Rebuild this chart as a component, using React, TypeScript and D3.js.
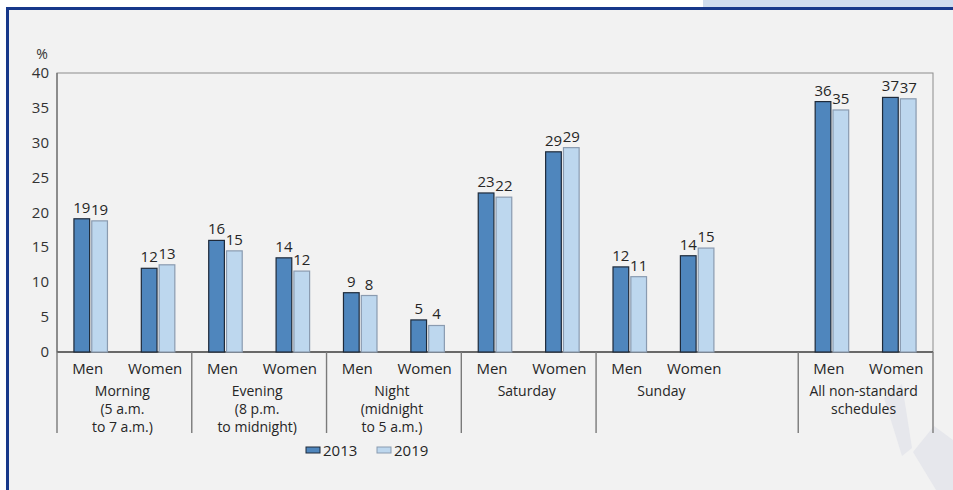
import React from "react";
import * as d3 from "d3";

const slots = ["m1", "w1", "m2", "w2", "m3", "w3", "m4", "w4", "m5", "w5", "gap", "m6", "w6"];
const sexLabels = ["Men", "Women", "Men", "Women", "Men", "Women", "Men", "Women", "Men", "Women", "", "Men", "Women"];
const values2013 = [19.1, 12.0, 16.0, 13.5, 8.5, 4.6, 22.8, 28.7, 12.2, 13.8, null, 35.9, 36.5];
const values2019 = [18.8, 12.5, 14.5, 11.6, 8.1, 3.8, 22.2, 29.3, 10.8, 14.9, null, 34.7, 36.3];
const labels2013 = ["19", "12", "16", "14", "9", "5", "23", "29", "12", "14", "", "36", "37"];
const labels2019 = ["19", "13", "15", "12", "8", "4", "22", "29", "11", "15", "", "35", "37"];
const groups = [
  { start: 0, end: 2, labelEnd: 2, lines: ["Morning", "(5 a.m.", "to 7 a.m.)"] },
  { start: 2, end: 4, labelEnd: 4, lines: ["Evening", "(8 p.m.", "to midnight)"] },
  { start: 4, end: 6, labelEnd: 6, lines: ["Night", "(midnight", "to 5 a.m.)"] },
  { start: 6, end: 8, labelEnd: 8, lines: ["Saturday"] },
  { start: 8, end: 11, labelEnd: 10, lines: ["Sunday"] },
  { start: 11, end: 13, labelEnd: 13, lines: ["All non-standard", "schedules"] },
];
const yTicks = [0, 5, 10, 15, 20, 25, 30, 35, 40];
const seriesNames = ["2013", "2019"];

const W = 953;
const H = 490;
const left = 57;
const right = 933;
const top = 73;
const bottom = 352;
const FONT = "'Open Sans', sans-serif";
const C2013 = "#4f86bd";
const S2013 = "#1e2a3a";
const C2019 = "#bdd7ee";
const S2019 = "#8a9bb0";

export default function App() {
  const x = d3.scaleBand<number>().domain(d3.range(slots.length)).range([left, right]).padding(0);
  const inner = d3.scaleBand<string>().domain(seriesNames).range([0, x.bandwidth()]).paddingInner(0.12).paddingOuter(0.95);
  const y = d3.scaleLinear().domain([0, 40]).range([bottom, top]);
  const edge = (i: number) => left + i * x.step();
  const bw = inner.bandwidth();

  const bars: React.ReactNode[] = [];
  const series = [
    { name: "2013", vals: values2013, labs: labels2013, fill: C2013, stroke: S2013 },
    { name: "2019", vals: values2019, labs: labels2019, fill: C2019, stroke: S2019 },
  ];
  series.forEach((s) => {
    s.vals.forEach((v, i) => {
      if (v == null) return;
      const bx = (x(i) as number) + (inner(s.name) as number);
      bars.push(
        <rect key={s.name + i} x={bx} y={y(v)} width={bw} height={y(0) - y(v)} fill={s.fill} stroke={s.stroke} strokeWidth={1.2} />
      );
      bars.push(
        <text key={"l" + s.name + i} x={bx + bw / 2} y={y(v) - 6} textAnchor="middle" fontSize={15} fill="#262626" fontFamily={FONT}>
          {s.labs[i]}
        </text>
      );
    });
  });

  return (
    <svg width={W} height={H} style={{ position: "absolute", left: 0, top: 0 }} xmlns="http://www.w3.org/2000/svg">
      <rect x={0} y={0} width={W} height={H} fill="#ffffff" />
      <rect x={703} y={0} width={W - 703} height={8} fill="#cfdcee" />
      <rect x={6} y={7} width={W - 6} height={H - 7} fill="#f2f2f2" />
      <rect x={6} y={7} width={W - 6} height={3} fill="#17388a" />
      <rect x={6} y={7} width={3} height={H - 7} fill="#17388a" />
      <polygon points="884,398 902,384 912,448 902,456" fill="#e6e7ec" />
      <polygon points="913,452 934,426 953,440 953,490 936,490" fill="#e6e7ec" />

      <rect x={left} y={top} width={right - left} height={bottom - top} fill="none" stroke="#8c8c8c" strokeWidth={1} />
      <line x1={left} x2={right} y1={bottom} y2={bottom} stroke="#4d4d4d" strokeWidth={1.3} />
      <line x1={left} x2={left} y1={top} y2={bottom} stroke="#6b6b6b" strokeWidth={1.2} />

      <text x={42} y={59} textAnchor="middle" fontSize={14} fill="#333" fontFamily={FONT}>%</text>
      {yTicks.map((t) => (
        <text key={t} x={49} y={y(t) + 5} textAnchor="end" fontSize={15} fill="#333" fontFamily={FONT}>
          {t}
        </text>
      ))}

      {bars}

      {groups.map((g, gi) => (
        <line key={"s" + gi} x1={edge(g.start)} x2={edge(g.start)} y1={bottom} y2={433} stroke="#7a7a7a" strokeWidth={1.4} />
      ))}
      <line x1={edge(13)} x2={edge(13)} y1={bottom} y2={433} stroke="#7a7a7a" strokeWidth={1.4} />

      {sexLabels.map((s, i) =>
        s ? (
          <text key={"sx" + i} x={(x(i) as number) + x.bandwidth() / 2 - 3} y={374} textAnchor="middle" fontSize={15} fill="#262626" fontFamily={FONT}>
            {s}
          </text>
        ) : null
      )}
      {groups.map((g, gi) =>
        g.lines.map((ln, li) => (
          <text key={"g" + gi + li} x={(edge(g.start) + edge(g.labelEnd)) / 2 - 2} y={396 + li * 18} textAnchor="middle" fontSize={14} fill="#262626" fontFamily={FONT}>
            {ln}
          </text>
        ))
      )}

      {series.map((s, i) => (
        <g key={"lg" + i} transform={`translate(${306 + i * 71},0)`}>
          <rect x={0} y={447} width={14} height={6} fill={s.fill} stroke={s.stroke} strokeWidth={1} />
          <text x={17} y={456} fontSize={15} fill="#262626" fontFamily={FONT}>{s.name}</text>
        </g>
      ))}
    </svg>
  );
}
